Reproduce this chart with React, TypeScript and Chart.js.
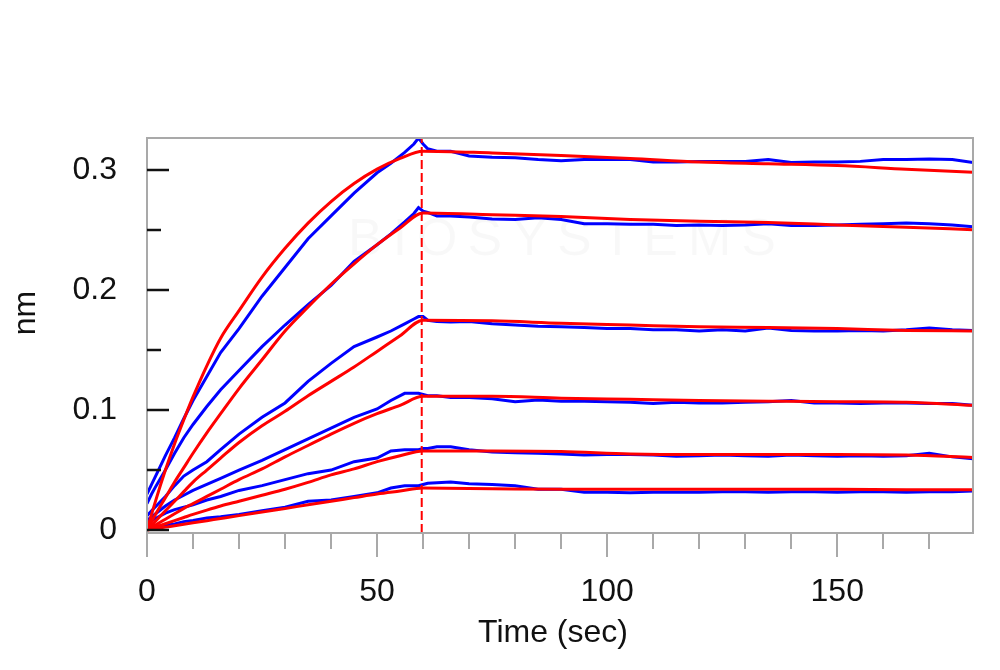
import { useEffect, useRef } from "react";
import { Chart, registerables } from "chart.js";

Chart.register(...registerables);

// ---- Data ----
// Measured sensorgrams (blue): association phase
const assocTime = [0, 1, 2, 4, 6, 8, 10, 13, 16, 20, 25, 30, 35, 40, 45, 50, 53, 56, 58, 59, 60];
const blue1Assoc = [0.03, 0.038, 0.046, 0.062, 0.077, 0.093, 0.108, 0.128, 0.148, 0.168, 0.195, 0.219, 0.243, 0.262, 0.281, 0.298, 0.306, 0.315, 0.322, 0.327, 0.322];
const blue2Assoc = [0.022, 0.03, 0.037, 0.05, 0.064, 0.077, 0.088, 0.103, 0.117, 0.133, 0.153, 0.171, 0.188, 0.204, 0.224, 0.238, 0.247, 0.257, 0.264, 0.269, 0.266];
const blue3Assoc = [0.012, 0.016, 0.02, 0.028, 0.037, 0.045, 0.05, 0.057, 0.067, 0.08, 0.094, 0.106, 0.124, 0.139, 0.153, 0.161, 0.166, 0.172, 0.176, 0.178, 0.178];
const blue4Assoc = [0.008, 0.011, 0.014, 0.02, 0.025, 0.029, 0.033, 0.038, 0.043, 0.05, 0.058, 0.067, 0.076, 0.085, 0.094, 0.101, 0.108, 0.114, 0.114, 0.114, 0.113];
const blue5Assoc = [0.005, 0.008, 0.01, 0.014, 0.017, 0.019, 0.021, 0.025, 0.028, 0.033, 0.037, 0.042, 0.047, 0.05, 0.057, 0.06, 0.066, 0.067, 0.067, 0.067, 0.068];
const blue6Assoc = [0.001, 0.002, 0.003, 0.004, 0.005, 0.007, 0.008, 0.01, 0.011, 0.013, 0.016, 0.019, 0.024, 0.025, 0.028, 0.031, 0.035, 0.037, 0.037, 0.037, 0.038];

// Measured sensorgrams (blue): dissociation phase
const dissocTime = [61, 63, 66, 70, 75, 80, 85, 90, 95, 100, 105, 110, 115, 120, 125, 130, 135, 140, 145, 150, 155, 160, 165, 170, 175, 179.5];
const blue1Dissoc = [0.318, 0.316, 0.316, 0.312, 0.311, 0.3105, 0.309, 0.308, 0.309, 0.309, 0.309, 0.307, 0.307, 0.3075, 0.3075, 0.3075, 0.309, 0.3065, 0.307, 0.307, 0.3075, 0.309, 0.309, 0.3095, 0.309, 0.3065];
const blue2Dissoc = [0.265, 0.262, 0.262, 0.261, 0.2595, 0.259, 0.2605, 0.259, 0.2555, 0.2555, 0.255, 0.255, 0.254, 0.2545, 0.254, 0.2545, 0.2555, 0.254, 0.254, 0.2545, 0.255, 0.2555, 0.256, 0.2555, 0.2545, 0.253];
const blue3Dissoc = [0.175, 0.174, 0.1735, 0.174, 0.172, 0.171, 0.17, 0.1695, 0.169, 0.168, 0.168, 0.167, 0.167, 0.166, 0.167, 0.166, 0.1685, 0.1665, 0.166, 0.166, 0.1665, 0.166, 0.167, 0.1685, 0.167, 0.1665];
const blue4Dissoc = [0.112, 0.112, 0.1105, 0.1105, 0.1095, 0.107, 0.1085, 0.1075, 0.1075, 0.107, 0.1065, 0.1055, 0.1065, 0.106, 0.106, 0.1065, 0.107, 0.108, 0.106, 0.106, 0.1055, 0.106, 0.106, 0.1055, 0.1055, 0.104];
const blue5Dissoc = [0.068, 0.0695, 0.0695, 0.067, 0.065, 0.0645, 0.064, 0.0635, 0.0625, 0.063, 0.063, 0.0625, 0.0615, 0.062, 0.0625, 0.062, 0.0615, 0.0625, 0.062, 0.0615, 0.062, 0.0615, 0.062, 0.064, 0.061, 0.0595];
const blue6Dissoc = [0.039, 0.0395, 0.04, 0.0385, 0.038, 0.037, 0.034, 0.034, 0.0315, 0.0315, 0.031, 0.0315, 0.0315, 0.0315, 0.032, 0.032, 0.0315, 0.032, 0.032, 0.0315, 0.032, 0.032, 0.0315, 0.032, 0.032, 0.0325];

// Global fits (red)
const fitAssocTime = [0, 2, 4, 6, 8, 10, 13, 16, 20, 25, 30, 35, 40, 45, 50, 55, 60];
const fit1Assoc = [0, 0.026, 0.05, 0.072, 0.092, 0.111, 0.137, 0.16, 0.183, 0.211, 0.235, 0.256, 0.274, 0.289, 0.301, 0.31, 0.316];
const fit2Assoc = [0, 0.014, 0.027, 0.04, 0.052, 0.064, 0.081, 0.097, 0.118, 0.142, 0.166, 0.186, 0.205, 0.222, 0.238, 0.252, 0.2645];
const fit3Assoc = [0, 0.008, 0.016, 0.024, 0.032, 0.04, 0.05, 0.06, 0.073, 0.087, 0.099, 0.112, 0.124, 0.136, 0.149, 0.162, 0.175];
const fit4Assoc = [0, 0.0045, 0.009, 0.0135, 0.018, 0.022, 0.028, 0.034, 0.042, 0.051, 0.061, 0.0705, 0.08, 0.089, 0.097, 0.104, 0.1115];
const fit5Assoc = [0, 0.0026, 0.0052, 0.0078, 0.0104, 0.013, 0.0166, 0.02, 0.024, 0.029, 0.034, 0.0397, 0.046, 0.051, 0.057, 0.062, 0.066];
const fit6Assoc = [0, 0.0012, 0.0024, 0.0036, 0.0048, 0.006, 0.0078, 0.0096, 0.012, 0.015, 0.018, 0.021, 0.024, 0.027, 0.03, 0.0325, 0.035];

const fitDissocTime = [60, 75, 90, 105, 120, 135, 150, 165, 179.5];
const fit1Dissoc = [0.316, 0.3145, 0.3125, 0.31, 0.307, 0.3055, 0.304, 0.301, 0.2985];
const fit2Dissoc = [0.2645, 0.263, 0.2615, 0.259, 0.2575, 0.2565, 0.2545, 0.2525, 0.2505];
const fit3Dissoc = [0.175, 0.1745, 0.1725, 0.171, 0.1695, 0.169, 0.168, 0.1665, 0.166];
const fit4Dissoc = [0.1115, 0.1115, 0.11, 0.109, 0.108, 0.1075, 0.107, 0.1065, 0.104];
const fit5Dissoc = [0.066, 0.066, 0.0655, 0.0635, 0.063, 0.063, 0.063, 0.0625, 0.0605];
const fit6Dissoc = [0.035, 0.0345, 0.034, 0.034, 0.034, 0.034, 0.034, 0.0335, 0.0335];

// Association / dissociation boundary
const phaseBoundary = 59.7;

// Axes
const xMin = 0;
const xMax = 179.5;
const yMin = -0.0025;
const yMax = 0.327;
const xTickStep = 10;
const yTickStep = 0.05;
const xLabelTicks = [0, 50, 100, 150];
const yLabelTicks = [0, 0.1, 0.2, 0.3];
const xTitle = "Time (sec)";
const yTitle = "nm";
const watermark = "BIOSYSTEMS";

const BLUE = "#0000ff";
const RED = "#ff0000";
const FONT = "'Liberation Sans', Arial, sans-serif";

function pts(xs: number[], ys: number[]) {
  return xs.map((x, i) => ({ x, y: ys[i] }));
}

const blueSeries = [
  [blue1Assoc, blue1Dissoc],
  [blue2Assoc, blue2Dissoc],
  [blue3Assoc, blue3Dissoc],
  [blue4Assoc, blue4Dissoc],
  [blue5Assoc, blue5Dissoc],
  [blue6Assoc, blue6Dissoc],
];
const fitSeries = [
  [fit1Assoc, fit1Dissoc],
  [fit2Assoc, fit2Dissoc],
  [fit3Assoc, fit3Dissoc],
  [fit4Assoc, fit4Dissoc],
  [fit5Assoc, fit5Dissoc],
  [fit6Assoc, fit6Dissoc],
];

const isLabelX = (v: number) => xLabelTicks.some((l) => Math.abs(l - v) < 1e-6);
const isLabelY = (v: number) => yLabelTicks.some((l) => Math.abs(l - v) < 1e-9);

const decorPlugin = {
  id: "decor",
  beforeDatasetsDraw(chart: any) {
    const { ctx } = chart;
    ctx.save();
    ctx.fillStyle = "rgba(0,0,0,0.028)";
    ctx.font = `52px ${FONT}`;
    try {
      (ctx as any).letterSpacing = "10px";
    } catch (e) {}
    ctx.textAlign = "center";
    ctx.textBaseline = "middle";
    ctx.fillText(watermark, 567, 241);
    ctx.restore();
  },
  afterDraw(chart: any) {
    const { ctx, chartArea, scales } = chart;
    const { left, right, top, bottom } = chartArea;
    ctx.save();
    // frame
    ctx.strokeStyle = "#a9a9a9";
    ctx.lineWidth = 2;
    ctx.strokeRect(left, top, right - left, bottom - top);
    // x ticks (outside, gray)
    const xs = scales.x;
    ctx.strokeStyle = "#a9a9a9";
    ctx.lineWidth = 2;
    xs.ticks.forEach((t: any) => {
      const px = Math.round(xs.getPixelForValue(t.value));
      const len = isLabelX(t.value) ? 24 : 16;
      ctx.beginPath();
      ctx.moveTo(px, bottom);
      ctx.lineTo(px, bottom + len);
      ctx.stroke();
    });
    // y ticks (inside, black)
    const ys = scales.y;
    ctx.strokeStyle = "#111";
    ctx.lineWidth = 2.5;
    ys.ticks.forEach((t: any) => {
      const py = Math.round(ys.getPixelForValue(t.value));
      const len = isLabelY(t.value) ? 22 : 14;
      ctx.beginPath();
      ctx.moveTo(left, py);
      ctx.lineTo(left + len, py);
      ctx.stroke();
    });
    // axis titles
    ctx.fillStyle = "#111";
    ctx.font = `32px ${FONT}`;
    ctx.textAlign = "center";
    ctx.textBaseline = "middle";
    ctx.fillText(xTitle, 553, 633);
    ctx.translate(35, 313);
    ctx.rotate(-Math.PI / 2);
    ctx.textBaseline = "alphabetic";
    ctx.fillText(yTitle, 0, 0);
    ctx.restore();
  },
};

export default function App() {
  const ref = useRef<HTMLCanvasElement | null>(null);

  useEffect(() => {
    if (!ref.current) return;
    const datasets: any[] = [];
    fitSeries.forEach(([a, d], i) => {
      datasets.push({
        label: `fit ${i + 1}`,
        data: [...pts(fitAssocTime, a), ...pts(fitDissocTime, d)],
        borderColor: RED,
        borderWidth: 3,
        pointRadius: 0,
        cubicInterpolationMode: "monotone",
        order: 0,
      });
    });
    datasets.push({
      label: "boundary",
      data: [
        { x: phaseBoundary, y: yMin },
        { x: phaseBoundary, y: yMax },
      ],
      borderColor: RED,
      borderWidth: 2,
      borderDash: [9, 4],
      pointRadius: 0,
      order: 0,
    });
    blueSeries.forEach(([a, d], i) => {
      datasets.push({
        label: `data ${i + 1}`,
        data: [...pts(assocTime, a), ...pts(dissocTime, d)],
        borderColor: BLUE,
        borderWidth: 3,
        pointRadius: 0,
        order: 1,
      });
    });

    const chart = new Chart(ref.current, {
      type: "line",
      data: { datasets },
      options: {
        animation: false,
        responsive: false,
        maintainAspectRatio: false,
        layout: { padding: { top: 138, right: 27, left: 0, bottom: 0 } },
        plugins: { legend: { display: false }, tooltip: { enabled: false } },
        elements: { point: { radius: 0 }, line: { tension: 0 } },
        scales: {
          x: {
            type: "linear",
            min: xMin,
            max: xMax,
            grid: { display: false, drawTicks: false },
            border: { display: false },
            ticks: {
              stepSize: xTickStep,
              autoSkip: false,
              includeBounds: false,
              maxRotation: 0,
              padding: 40,
              color: "#111",
              font: { family: FONT, size: 32 },
              callback: (v: any) => (isLabelX(Number(v)) ? String(Math.round(Number(v))) : ""),
            },
            afterFit: (s: any) => {
              s.height = 137;
            },
          },
          y: {
            type: "linear",
            min: yMin,
            max: yMax,
            grid: { display: false, drawTicks: false },
            border: { display: false },
            ticks: {
              stepSize: yTickStep,
              autoSkip: false,
              includeBounds: false,
              padding: 30,
              color: "#111",
              font: { family: FONT, size: 32 },
              callback: (v: any) => {
                const n = Number(v);
                const l = yLabelTicks.find((t) => Math.abs(t - n) < 1e-9);
                return l === undefined ? "" : String(l);
              },
            },
            afterFit: (s: any) => {
              s.width = 147;
            },
          },
        },
      },
      plugins: [decorPlugin],
    });
    return () => chart.destroy();
  }, []);

  return (
    <div style={{ position: "absolute", left: 0, top: 0, width: 1000, height: 670, background: "#fff" }}>
      <canvas ref={ref} width={1000} height={670} style={{ display: "block", width: 1000, height: 670 }} />
    </div>
  );
}
